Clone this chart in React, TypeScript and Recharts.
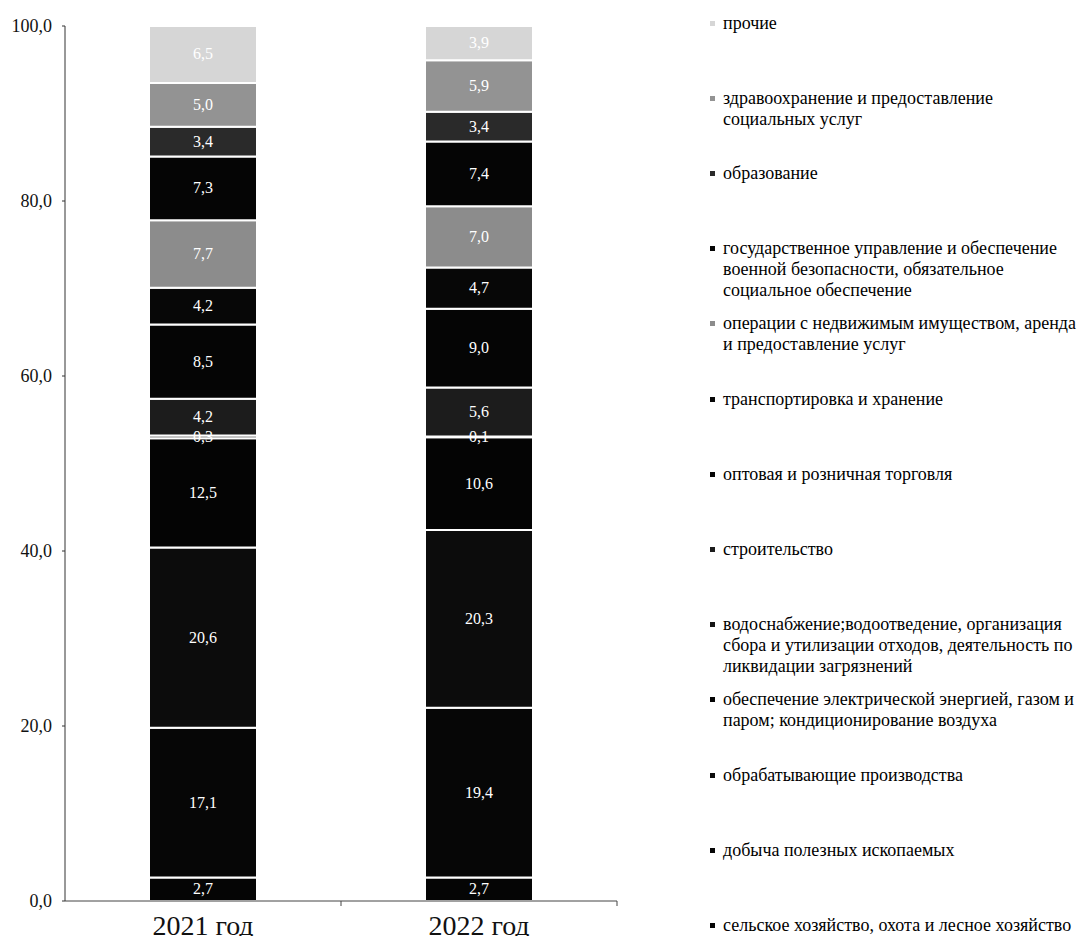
import React from 'react';
import { BarChart, Bar, XAxis, YAxis, Legend, LabelList } from 'recharts';

const categories = ['2021 год', '2022 год'];

const seriesKeys = ['s0', 's1', 's2', 's3', 's4', 's5', 's6', 's7', 's8', 's9', 's10', 's11', 's12'];

const seriesNames = [
  'сельское хозяйство, охота и лесное хозяйство',
  'добыча полезных ископаемых',
  'обрабатывающие производства',
  'обеспечение электрической энергией, газом и паром; кондиционирование воздуха',
  'водоснабжение;водоотведение, организация сбора и утилизации отходов, деятельность по ликвидации загрязнений',
  'строительство',
  'оптовая и розничная торговля',
  'транспортировка и хранение',
  'операции с недвижимым имуществом, аренда и предоставление услуг',
  'государственное управление и обеспечение военной безопасности, обязательное социальное обеспечение',
  'образование',
  'здравоохранение и предоставление социальных услуг',
  'прочие',
];

const legendLines = [
  ['сельское хозяйство, охота и лесное хозяйство'],
  ['добыча полезных ископаемых'],
  ['обрабатывающие производства'],
  ['обеспечение электрической энергией, газом и', 'паром; кондиционирование воздуха'],
  ['водоснабжение;водоотведение, организация', 'сбора и утилизации отходов, деятельность по', 'ликвидации загрязнений'],
  ['строительство'],
  ['оптовая и розничная торговля'],
  ['транспортировка и хранение'],
  ['операции с недвижимым имуществом, аренда', 'и предоставление услуг'],
  ['государственное управление и обеспечение', 'военной безопасности, обязательное', 'социальное обеспечение'],
  ['образование'],
  ['здравоохранение и предоставление', 'социальных услуг'],
  ['прочие'],
];

const values2021 = [2.7, 17.1, 20.6, 12.5, 0.3, 4.2, 8.5, 4.2, 7.7, 7.3, 3.4, 5.0, 6.5];
const values2022 = [2.7, 19.4, 20.3, 10.6, 0.1, 5.6, 9.0, 4.7, 7.0, 7.4, 3.4, 5.9, 3.9];

const seriesColors = [
  '#050505', '#060606', '#0c0c0c', '#040404', '#151515', '#1c1c1c', '#050505',
  '#070707', '#8c8c8c', '#050505', '#2a2a2a', '#939393', '#d6d6d6',
];

const yTicks = [0, 20, 40, 60, 80, 100];

const valuesByCategory = [values2021, values2022];
const data = categories.map((name, ci) => {
  const row: Record<string, any> = { name };
  seriesKeys.forEach((k, si) => {
    row[k] = valuesByCategory[ci][si];
  });
  return row;
});

const FONT = "'Liberation Serif', 'Times New Roman', serif";
const fmt = (v: any) => Number(v).toFixed(1).replace('.', ',');

const XTick = (props: any) => {
  const { x, y, payload } = props;
  const off = payload && typeof payload.offset === 'number' ? payload.offset : 0;
  return (
    <g>
      <text x={x} y={y + 34} textAnchor="middle" style={{ fontFamily: FONT }} fontSize={28} fill="#111">
        {payload.value}
      </text>
      {off ? <line x1={x + off} x2={x + off} y1={y} y2={y + 5} stroke="#444" strokeWidth={1} /> : null}
    </g>
  );
};

const YTick = (props: any) => {
  const { x, y, payload } = props;
  return (
    <text x={x} y={y} dy={6} textAnchor="end" style={{ fontFamily: FONT }} fontSize={18} fill="#111">
      {fmt(payload.value)}
    </text>
  );
};

const renderLegend = () => {
  const order = seriesKeys.map((_, i) => i).reverse();
  return (
    <div style={{ position: 'relative', width: 383, height: 944, fontFamily: FONT, color: '#000' }}>
      {order.map((si, idx) => (
        <div
          key={si}
          style={{
            position: 'absolute',
            left: 0,
            top: 12.5 + idx * 75.2,
            fontSize: 18,
            lineHeight: '21px',
            whiteSpace: 'nowrap',
            fontFamily: FONT,
          }}
        >
          <span
            style={{
              position: 'absolute',
              left: 5,
              top: 8,
              width: 5,
              height: 5,
              background: seriesColors[si],
            }}
          />
          <div style={{ paddingLeft: 18 }}>
            {legendLines[si].map((ln, li) => (
              <div key={li}>{ln}</div>
            ))}
          </div>
        </div>
      ))}
    </div>
  );
};

const renderBarLabel = (props: any) => {
  const { x, y, width, height, value } = props;
  return (
    <text
      x={x + width / 2}
      y={y + height / 2}
      dy={5}
      textAnchor="middle"
      style={{ fontFamily: FONT }}
      fontSize={16}
      fill="#ffffff"
    >
      {fmt(value)}
    </text>
  );
};

export default function App() {
  return (
    <div style={{ margin: '-8px', width: 1088, height: 944, background: '#fff', fontFamily: FONT }}>
      <BarChart
        width={1088}
        height={944}
        data={data}
        margin={{ top: 26, right: 471, left: 8, bottom: 0 }}
        style={{ fontFamily: FONT }}
      >
        <XAxis
          dataKey="name"
          height={43}
          axisLine={{ stroke: '#444', strokeWidth: 1 }}
          tickLine={false}
          tickSize={0}
          tickMargin={0}
          tick={<XTick />}
          interval={0}
        />
        <YAxis
          domain={[0, 100]}
          ticks={yTicks}
          width={57}
          axisLine={{ stroke: '#333', strokeWidth: 1 }}
          tickLine={{ stroke: '#333' }}
          tickSize={3}
          tickMargin={10}
          tick={<YTick />}
          allowDataOverflow
        />
        <Legend
          layout="vertical"
          align="center"
          verticalAlign="middle"
          content={renderLegend}
          wrapperStyle={{ left: 705, top: 0, width: 383, height: 944 }}
        />
        {seriesKeys.map((k, si) => (
          <Bar
            key={k}
            dataKey={k}
            name={seriesNames[si]}
            stackId="a"
            fill={seriesColors[si]}
            stroke="#ffffff"
            strokeWidth={2}
            barSize={108}
            isAnimationActive={false}
          >
            <LabelList dataKey={k} content={renderBarLabel} />
          </Bar>
        ))}
      </BarChart>
    </div>
  );
}
